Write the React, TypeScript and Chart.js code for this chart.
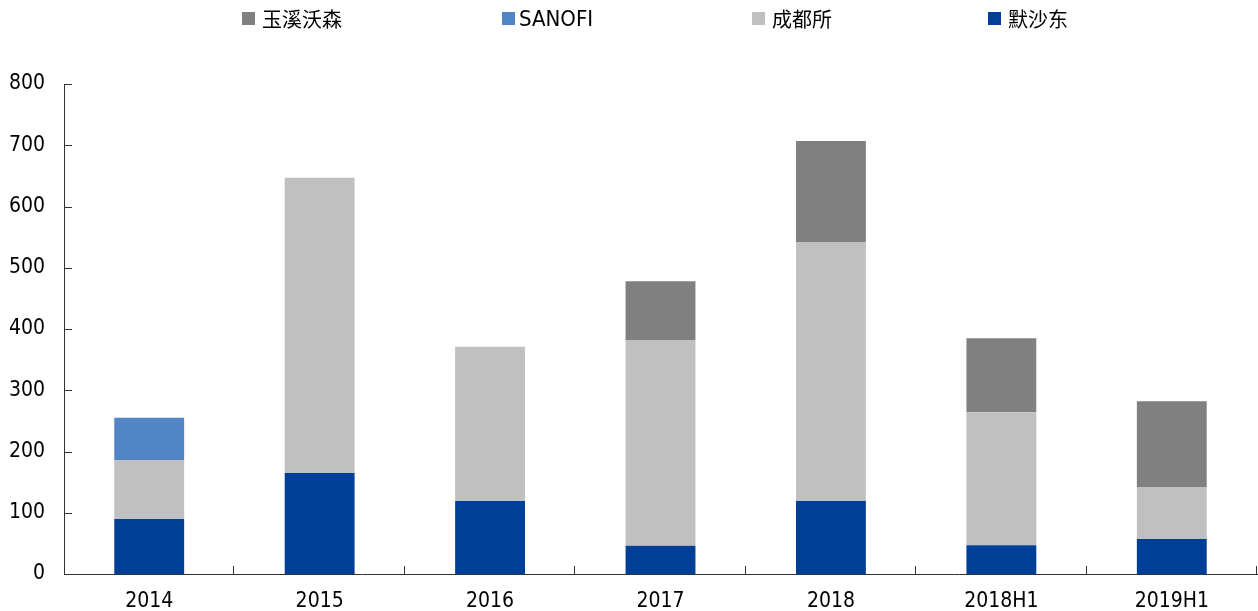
import React, { useEffect, useRef } from "react";
import { Chart, registerables } from "chart.js";

Chart.register(...registerables);

const categories = ["2014", "2015", "2016", "2017", "2018", "2018H1", "2019H1"];
const msdValues = [90, 165, 119, 46, 119, 47, 57];
const chengduValues = [96, 482, 252, 336, 423, 217, 85];
const sanofiValues = [69, 0, 0, 0, 0, 0, 0];
const yuxiValues = [0, 0, 0, 96, 165, 121, 140];
const yTicks = [0, 100, 200, 300, 400, 500, 600, 700, 800];

const seriesNames = ["默沙东", "成都所", "SANOFI", "玉溪沃森"];
const seriesColors = ["#003f98", "#c0c0c0", "#5185c6", "#808080"];

const AXIS_COLOR = "#333333";
const TICK_FONT = "'DejaVu Sans Condensed', 'DejaVu Sans', sans-serif";

const insideTicks = {
  id: "insideTicks",
  afterDraw(chart: any) {
    const { ctx, chartArea, scales } = chart;
    const x = scales.x;
    const y = scales.y;
    ctx.save();
    ctx.strokeStyle = AXIS_COLOR;
    ctx.lineWidth = 1;
    ctx.beginPath();
    y.ticks.forEach((_t: any, i: number) => {
      const py = Math.round(y.getPixelForTick(i)) + 0.5;
      ctx.moveTo(chartArea.left, py);
      ctx.lineTo(chartArea.left + 8, py);
    });
    const n = categories.length;
    const half = (x.getPixelForValue(1) - x.getPixelForValue(0)) / 2;
    for (let i = 1; i <= n; i++) {
      const px = Math.round(x.getPixelForValue(i - 1) + half) - 0.5;
      ctx.moveTo(px, chartArea.bottom);
      ctx.lineTo(px, chartArea.bottom - 8);
    }
    ctx.stroke();
    ctx.restore();
  },
};

export default function App() {
  const ref = useRef<HTMLCanvasElement>(null);

  useEffect(() => {
    if (!ref.current) return;
    const dataArrays = [msdValues, chengduValues, sanofiValues, yuxiValues];
    const chart = new Chart(ref.current, {
      type: "bar",
      data: {
        labels: categories,
        datasets: dataArrays.map((d, i) => ({
          label: seriesNames[i],
          data: d,
          backgroundColor: seriesColors[i],
          borderWidth: 0,
          categoryPercentage: 1,
          barPercentage: 0.41,
        })),
      },
      options: {
        animation: false,
        responsive: true,
        maintainAspectRatio: false,
        layout: { padding: { top: 84, right: 1, left: 0, bottom: 0 } },
        plugins: {
          legend: { display: false },
          tooltip: { enabled: false },
        },
        scales: {
          x: {
            stacked: true,
            grid: { display: false, drawTicks: false },
            border: { display: true, color: AXIS_COLOR, width: 1 },
            ticks: {
              color: "#000",
              padding: 15,
              font: { family: TICK_FONT, size: 21 },
              maxRotation: 0,
            },
            afterFit(scale: any) {
              scale.height = 37;
            },
          },
          y: {
            stacked: true,
            min: 0,
            max: 800,
            afterBuildTicks(scale: any) {
              scale.ticks = yTicks.map((v) => ({ value: v }));
            },
            grid: { display: false, drawTicks: false },
            border: { display: true, color: AXIS_COLOR, width: 1 },
            ticks: {
              color: "#000",
              padding: 19,
              font: { family: TICK_FONT, size: 21 },
            },
            afterFit(scale: any) {
              scale.width = 64;
            },
          },
        },
      },
      plugins: [insideTicks],
    });
    return () => chart.destroy();
  }, []);

  const legendOrder = [3, 2, 1, 0];
  const legendLefts = [242, 502, 752, 988];

  return (
    <div
      style={{
        position: "fixed",
        left: 0,
        top: 0,
        width: 1258,
        height: 611,
        background: "#fff",
      }}
    >
      <canvas ref={ref} />
      {legendOrder.map((si, k) => (
        <div
          key={si}
          style={{
            position: "absolute",
            left: legendLefts[k],
            top: 4,
            height: 28,
            display: "flex",
            alignItems: "center",
            whiteSpace: "nowrap",
            fontSize: si === 2 ? 22 : 20,
            color: "#000",
            fontFamily:
              si === 2
                ? TICK_FONT
                : "'Noto Sans CJK SC', sans-serif",
          }}
        >
          <span
            style={{
              display: "inline-block",
              width: 13,
              height: 13,
              background: seriesColors[si],
              marginRight: si === 2 ? 4 : 7,
            }}
          />
          <span>{seriesNames[si]}</span>
        </div>
      ))}
    </div>
  );
}
